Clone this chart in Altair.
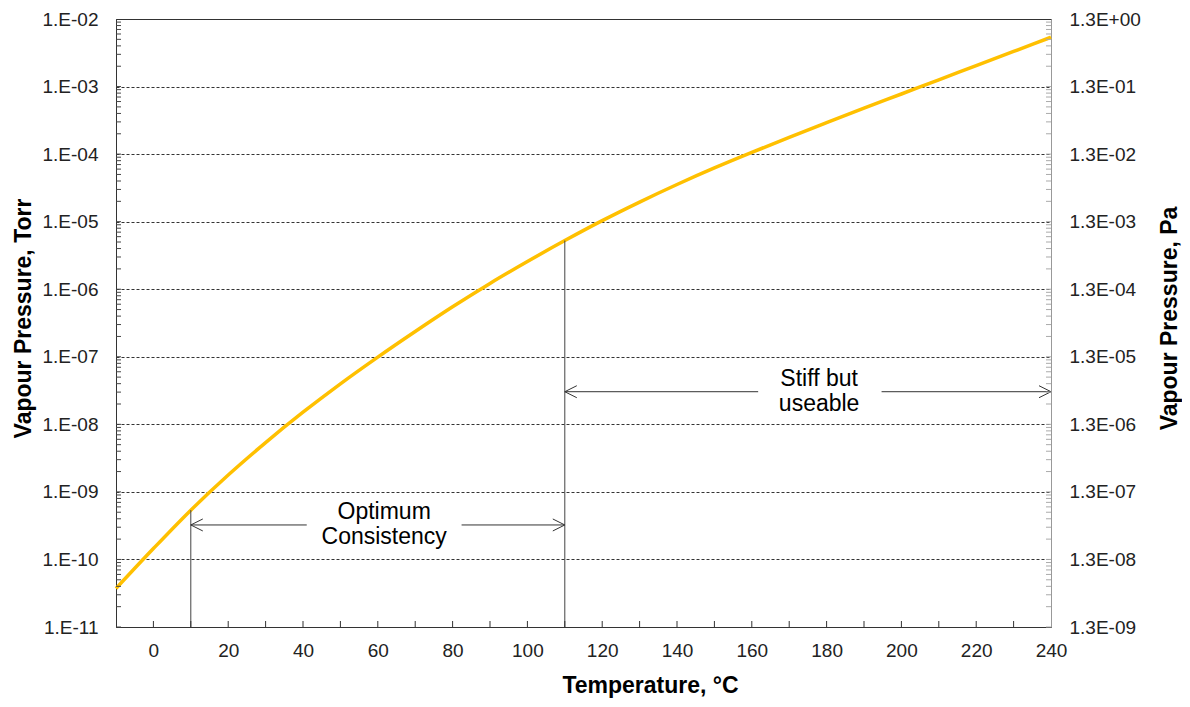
import json
import altair as alt
import pandas as pd

# ---- data ----
temps = [-10, 0, 10, 20, 30, 40, 50, 60, 70, 80, 90, 100, 110, 120, 130,
         140, 150, 160, 170, 180, 190, 200, 210, 220, 230, 240]
torr = [3.72e-11, 1.45e-10, 5.37e-10, 1.78e-9, 5.37e-9, 1.51e-8, 3.98e-8,
        9.9e-8, 2.37e-7, 5.5e-7, 1.22e-6, 2.57e-6, 5.25e-6, 1.035e-5,
        1.95e-5, 3.55e-5, 6.24e-5, 1.06e-4, 1.77e-4, 2.92e-4, 4.79e-4,
        7.76e-4, 1.26e-3, 2.04e-3, 3.31e-3, 5.37e-3]

decade_values = [1e-11, 1e-10, 1e-9, 1e-8, 1e-7, 1e-6, 1e-5, 1e-4, 1e-3, 1e-2]
left_labels = ["1.E-11", "1.E-10", "1.E-09", "1.E-08", "1.E-07",
               "1.E-06", "1.E-05", "1.E-04", "1.E-03", "1.E-02"]
right_labels = ["1.3E-09", "1.3E-08", "1.3E-07", "1.3E-06", "1.3E-05",
                "1.3E-04", "1.3E-03", "1.3E-02", "1.3E-01", "1.3E+00"]
x_label_values = [0, 20, 40, 60, 80, 100, 120, 140, 160, 180, 200, 220, 240]
x_tick_values = [0, 10, 20, 30, 40, 50, 60, 70, 80, 90, 100, 110, 120, 130,
                 140, 150, 160, 170, 180, 190, 200, 210, 220, 230]
decade_exps = [-11, -10, -9, -8, -7, -6, -5, -4, -3]
mantissas = [1, 2, 3, 4, 5, 6, 7, 8, 9]

# vertical markers (temperature, pressure on curve)
marker_t = [10, 110]
marker_p = [5.37e-10, 5.25e-6]

# annotation arrows
seg_x1 = [10, 82.4, 110, 194.7]
seg_x2 = [41.0, 110, 161.7, 240]
seg_y = [3.24e-10, 3.24e-10, 3.04e-8, 3.04e-8]
left_head_t = [10, 110]
left_head_p = [3.24e-10, 3.04e-8]
right_head_t = [110, 240]
right_head_p = [3.24e-10, 3.04e-8]
note_t = [61.7, 178.0]
note_p = [3.24e-10, 3.04e-8]
note_text = ["Optimum\nConsistency", "Stiff but\nuseable"]

FONT = "Liberation Sans"
W, H = 935, 608

curve_df = pd.DataFrame({"T": temps, "P": torr})
marker_df = pd.DataFrame({"T": marker_t, "P": marker_p, "B": [1e-11] * len(marker_t)})
seg_df = pd.DataFrame({"x1": seg_x1, "x2": seg_x2, "y": seg_y})
lh_df = pd.DataFrame({"T": left_head_t, "P": left_head_p})
rh_df = pd.DataFrame({"T": right_head_t, "P": right_head_p})
note_df = pd.DataFrame({"T": note_t, "P": note_p, "txt": note_text})
xt_df = pd.DataFrame({"T": x_tick_values, "P": [1e-11] * len(x_tick_values)})
minor_p = [m * 10.0 ** e for e in decade_exps for m in mantissas]
lt_df = pd.DataFrame({"T": [-10] * len(minor_p), "P": minor_p})
rt_df = pd.DataFrame({"T": [240] * len(minor_p), "P": minor_p})

x_scale = alt.Scale(domain=[-10, 240], nice=False, zero=False)
y_scale = alt.Scale(type="log", domain=[1e-11, 1e-2], nice=False)

x_axis = alt.Axis(
    values=x_label_values, title="Temperature, °C", grid=False,
    labelFlush=False, labelOverlap=False, labelBaseline="middle",
    labelPadding=23, titleX=534, titleY=58, titleBaseline="middle",
    titleAlign="center")
y_axis = alt.Axis(
    values=decade_values,
    labelExpr=json.dumps(left_labels) + "[round(log(datum.value)/LN10)+11]",
    title="Vapour Pressure, Torr", grid=True, gridDash=[3, 2],
    gridColor="#333", gridWidth=1, labelPadding=18, labelFlush=False,
    labelOverlap=False, titleAngle=270, titleX=-93, titleY=299,
    titleBaseline="middle", titleAlign="center")
y_axis_r = alt.Axis(
    orient="right", values=decade_values,
    labelExpr=json.dumps(right_labels) + "[round(log(datum.value)/LN10)+11]",
    title="Vapour Pressure, Pa", grid=False, domainColor="#999",
    labelPadding=18, labelFlush=False, labelOverlap=False,
    titleAngle=270, titleX=118, titleY=299, titleBaseline="middle",
    titleAlign="center")


def X(field="T"):
    return alt.X(f"{field}:Q", scale=x_scale, axis=x_axis)


def Y(field="P"):
    return alt.Y(f"{field}:Q", scale=y_scale, axis=y_axis)


main = alt.Chart(curve_df).mark_line(
    color="#FFC000", strokeWidth=3.5, interpolate="monotone"
).encode(x=X(), y=Y())

markers = alt.Chart(marker_df).mark_rule(color="#444", strokeWidth=1).encode(
    x=X(), y=Y(), y2="B:Q")

segs = alt.Chart(seg_df).mark_rule(color="#333", strokeWidth=1).encode(
    x=X("x1"), x2="x2:Q", y=Y("y"))

lheads = alt.Chart(lh_df).mark_point(
    shape="M 2 -1 L 0 0 L 2 1", filled=False, size=144, stroke="#333",
    strokeWidth=1, opacity=1).encode(x=X(), y=Y())
rheads = alt.Chart(rh_df).mark_point(
    shape="M -2 -1 L 0 0 L -2 1", filled=False, size=144, stroke="#333",
    strokeWidth=1, opacity=1).encode(x=X(), y=Y())

notes = alt.Chart(note_df).mark_text(
    font=FONT, fontSize=23, lineBreak="\n", lineHeight=25.5, align="center",
    baseline="middle", dy=-13, color="black").encode(x=X(), y=Y(), text="txt:N")

xticks = alt.Chart(xt_df).mark_tick(
    orient="vertical", size=6, thickness=1, yOffset=-3, color="#333",
    opacity=1).encode(x=X(), y=Y())
lticks = alt.Chart(lt_df).mark_tick(
    orient="horizontal", size=5, thickness=1, xOffset=2.5, color="#444",
    opacity=1).encode(x=X(), y=Y())
rticks = alt.Chart(rt_df).mark_tick(
    orient="horizontal", size=5, thickness=1, xOffset=-2.5, color="#aaa",
    opacity=1).encode(x=X(), y=Y())

left_group = alt.layer(main, markers, segs, lheads, rheads, notes,
                       xticks, lticks, rticks)

right = alt.Chart(curve_df).mark_line(opacity=0).encode(
    x=X(),
    y=alt.Y("P:Q", scale=y_scale, axis=y_axis_r),
)

chart = alt.layer(left_group, right).resolve_scale(y="independent").properties(
    width=W, height=H,
    autosize=alt.AutoSizeParams(type="none"),
    padding={"left": 108, "top": 11, "right": 131, "bottom": 72},
).configure_view(stroke="#333", strokeWidth=1).configure_axis(
    labelFont=FONT, labelFontSize=19, labelColor="#222",
    titleFont=FONT, titleFontSize=23, titleFontWeight="bold",
    titleColor="black", domainColor="#333", domainWidth=1,
    ticks=False, tickSize=0,
)

chart.save("out.html", embed_options={"renderer": "svg", "actions": False})
